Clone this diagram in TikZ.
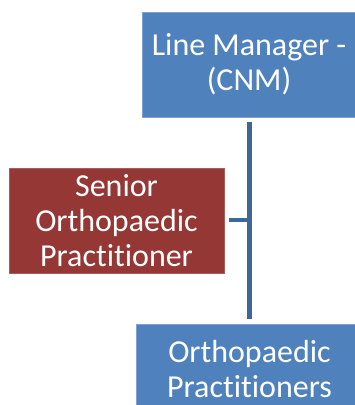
\documentclass[tikz,border=0pt]{standalone}
\usepackage{fontspec}
\setmainfont[Ligatures=NoCommon]{Carlito}
\usetikzlibrary{calc}
\definecolor{boxblue}{HTML}{4F81BD}
\definecolor{boxedge}{HTML}{7EA1CF}
\definecolor{boxred}{HTML}{953735}
\definecolor{redge}{HTML}{A85C5A}
\definecolor{linkblue}{HTML}{3F6796}
\begin{document}
\begin{tikzpicture}[x=1pt,y=1pt,
  orgbox/.style={rectangle, fill=boxblue, draw=boxedge, line width=0.8pt, text=white, align=center,
    inner sep=0pt, font=\fontsize{32}{35}\selectfont},
  redbox/.style={orgbox, fill=boxred, draw=redge},
  link/.style={draw=linkblue, line width=4.2pt}]
\useasboundingbox (0,0) rectangle (355,-405);
\clip (0,0) rectangle (355,-405);
\node[orgbox, minimum width=214pt, minimum height=105pt] (top) at (249,-64.5) {Line Manager -\\(CNM)};
\node[redbox, minimum width=215pt, minimum height=105pt] (senior) at (116.5,-220.5) {Senior\\Orthopaedic\\Practitioner};
\node[orgbox, minimum width=227pt, minimum height=90pt] (bottom) at (249.5,-369) {Orthopaedic\\Practitioners};
\coordinate (j) at (249.5,-220);
\draw[link, shorten <=5pt, shorten >=5pt] ($(top.south)+(0.5,0)$) -- (bottom.north);
\draw[link, shorten <=5pt] ($(senior.east)+(0,0.5)$) -- (j);
\end{tikzpicture}
\end{document}
